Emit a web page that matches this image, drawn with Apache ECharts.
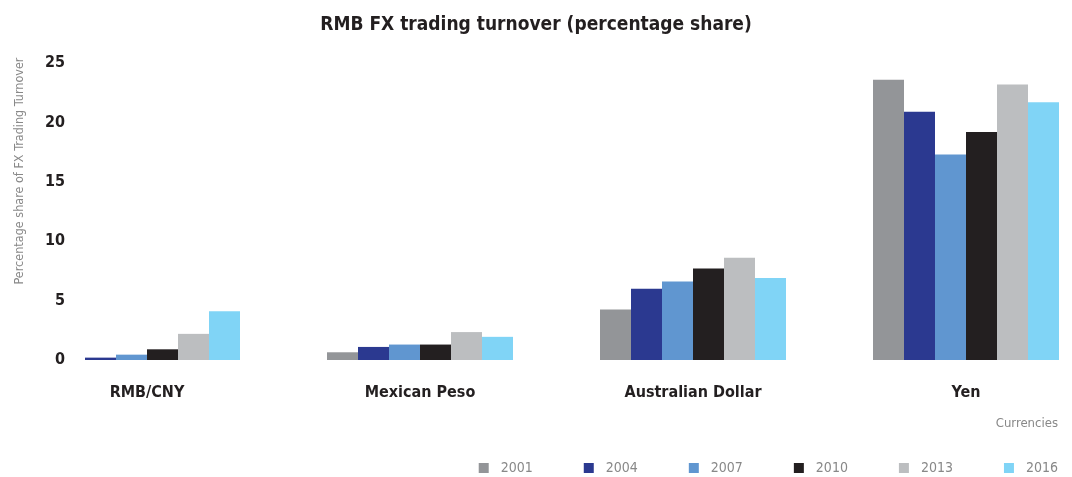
<!DOCTYPE html>
<html>
<head>
<meta charset="utf-8">
<script src="https://cdn.jsdelivr.net/npm/echarts@6/dist/echarts.min.js"></script>
<style>
  html, body { margin: 0; padding: 0; background: #fff; }
  #chart { width: 1072px; height: 477px; }
</style>
</head>
<body>
<div id="chart"></div>
<script>
const currencies = ['RMB/CNY', 'Mexican Peso', 'Australian Dollar', 'Yen']
const years = ['2001', '2004', '2007', '2010', '2013', '2016']
const colors = ['#939598', '#2b3990', '#6096d0', '#231f20', '#bcbec0', '#80d4f6']

// share per year, one value per currency
const share2001 = [0.0, 0.65, 4.25, 23.6]
const share2004 = [0.2, 1.1, 6.0, 20.9]
const share2007 = [0.45, 1.3, 6.6, 17.3]
const share2010 = [0.9, 1.3, 7.7, 19.2]
const share2013 = [2.2, 2.35, 8.6, 23.2]
const share2016 = [4.1, 1.95, 6.9, 21.7]
const shares = [share2001, share2004, share2007, share2010, share2013, share2016]

const font = '"DejaVu Sans Condensed", Arial, sans-serif'

const option = {
  animation: false,
  title: {
    text: 'RMB FX trading turnover (percentage share)',
    left: 'center',
    top: 11,
    textStyle: { fontFamily: font, fontSize: 19, fontWeight: 'bold', color: '#231f20' }
  },
  legend: {
    data: years,
    right: 9,
    top: 456,
    itemWidth: 10,
    itemHeight: 10,
    itemGap: 51,
    icon: 'rect',
    textStyle: { fontFamily: font, fontSize: 14, color: '#888', padding: [0, 0, 0, 7] }
  },
  grid: { left: 147, right: 106, top: 63, bottom: 117 },
  xAxis: {
    type: 'category',
    data: currencies,
    boundaryGap: false,
    axisLine: { show: false },
    axisTick: { show: false },
    axisLabel: {
      margin: 25,
      fontFamily: font,
      fontSize: 16,
      fontWeight: 'bold',
      color: '#231f20'
    }
  },
  yAxis: {
    type: 'value',
    min: 0,
    max: 25,
    interval: 5,
    splitLine: { show: false },
    axisLine: { show: false },
    axisTick: { show: false },
    axisLabel: {
      margin: 82,
      fontFamily: font,
      fontSize: 16,
      fontWeight: 'bold',
      color: '#231f20'
    }
  },
  graphic: [
    {
      type: 'text',
      x: 13,
      y: 171,
      rotation: Math.PI / 2,
      style: {
        text: 'Percentage share of FX Trading Turnover',
        fontFamily: font,
        fontSize: 12.5,
        fill: '#888',
        align: 'center',
        verticalAlign: 'top'
      }
    },
    {
      type: 'text',
      right: 14,
      top: 417,
      style: {
        text: 'Currencies',
        fontFamily: font,
        fontSize: 13,
        fill: '#888'
      }
    }
  ],
  series: years.map((y, i) => ({
    name: y,
    type: 'bar',
    data: shares[i],
    barWidth: 31,
    barGap: '0%',
    itemStyle: { color: colors[i] }
  }))
}

const chart = echarts.init(document.getElementById('chart'))
chart.setOption(option)
</script>
</body>
</html>
